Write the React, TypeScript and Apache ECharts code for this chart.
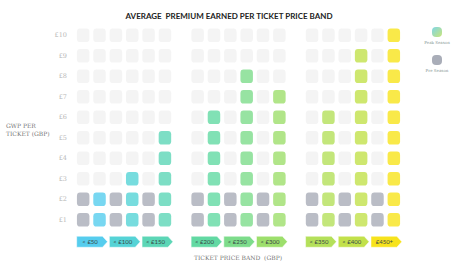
import React, { useEffect, useRef } from "react";
import * as echarts from "echarts";

const rowLabels = ["£1", "£2", "£3", "£4", "£5", "£6", "£7", "£8", "£9", "£10"];
const bands = ["< £50", "< £100", "< £150", "< £200", "< £250", "< £300", "< £350", "< £400", "£450+"];
const peakLevels = [2, 3, 5, 6, 8, 7, 6, 9, 10];
const preLevels = [2, 2, 2, 2, 2, 2, 2, 2, 2];
const bandColors = ["#56cdee", "#55d3d6", "#5cd6b6", "#62d9a3", "#7ddc8b", "#9ddf6c", "#b4e05a", "#c2e14b", "#f7e31c"];
const slotCount = 20;
const slots = Array.from({ length: slotCount }, (_, i) => String(i));

const EMPTY = "#f1f1f1";
const PRE = "#a9adb8";

function preSlot(b: number) {
  return Math.floor(b / 3) * 7 + (b % 3) * 2;
}

export default function App() {
  const ref = useRef<HTMLDivElement>(null);
  useEffect(() => {
    if (!ref.current) return;
    const chart = echarts.init(ref.current, undefined, { renderer: "svg" });

    const emptyData: any[] = [];
    const preData: any[] = [];
    const peakData: any[] = [];
    bands.forEach((_, b) => {
      const ps = preSlot(b);
      for (let r = 0; r < rowLabels.length; r++) {
        if (r < preLevels[b]) preData.push([ps, r]);
        else emptyData.push([ps, r]);
        if (r < peakLevels[b]) peakData.push({ value: [ps + 1, r], itemStyle: { color: bandColors[b] } });
        else emptyData.push([ps + 1, r]);
      }
    });

    const cellSize = [12.5, 13.5];

    const tagData = bands.map((name, b) => [preSlot(b), preSlot(b) + 1, b]);

    chart.setOption({
      animation: false,
      grid: { left: 75, right: 72, top: 25, bottom: 44 },
      xAxis: {
        type: "category",
        data: slots,
        show: false,
      },
      yAxis: {
        type: "category",
        data: rowLabels,
        axisLine: { show: false },
        axisTick: { show: false },
        splitLine: { show: false },
        axisLabel: { color: "#b8b8b8", fontSize: 6.5, margin: 8, fontFamily: "DejaVu Serif" },
      },
      series: [
        { type: "scatter", name: "Empty", symbol: "roundRect", symbolSize: cellSize, data: emptyData, itemStyle: { color: EMPTY }, silent: true },
        { type: "scatter", name: "Pre Season", symbol: "roundRect", symbolSize: cellSize, data: preData, itemStyle: { color: PRE } },
        { type: "scatter", name: "Peak Season", symbol: "roundRect", symbolSize: cellSize, data: peakData },
        {
          type: "custom",
          name: "Bands",
          data: tagData,
          clip: false,
          renderItem: (params: any, api: any) => {
            const b = api.value(2);
            const p1 = api.coord([api.value(0), 0]);
            const p2 = api.coord([api.value(1), 0]);
            const x0 = p1[0] - 6.5;
            const x1 = p2[0] + 8;
            const y = p1[1] + 22;
            const h = 5.5;
            return {
              type: "group",
              children: [
                {
                  type: "polygon",
                  shape: { points: [[x0, y - h], [x1 - 5, y - h], [x1, y], [x1 - 5, y + h], [x0, y + h]] },
                  style: { fill: bandColors[b], stroke: "#ffffff", lineWidth: 0.5 },
                },
                {
                  type: "text",
                  style: {
                    text: bands[b],
                    x: (x0 + x1) / 2 - 2,
                    y: y,
                    textAlign: "center",
                    textVerticalAlign: "middle",
                    fontSize: 6,
                    fontFamily: "Lato",
                    fill: "#3a4a48",
                  },
                },
              ],
            };
          },
        },
      ],
      graphic: [
        {
          type: "text",
          x: 229,
          y: 16,
          style: {
            text: "AVERAGE  PREMIUM EARNED PER TICKET PRICE BAND",
            textAlign: "center",
            textVerticalAlign: "middle",
            fontSize: 8,
            fontWeight: "bold",
            fontFamily: "Lato",
            fill: "#222222",
          },
        },
        {
          type: "text",
          x: 6,
          y: 121,
          style: {
            text: "GWP PER\nTICKET (GBP)",
            fontSize: 6,
            lineHeight: 8,
            fontFamily: "DejaVu Serif",
            fill: "#777777",
          },
        },
        {
          type: "text",
          x: 238,
          y: 257,
          style: {
            text: "TICKET PRICE BAND  (GBP)",
            textAlign: "center",
            textVerticalAlign: "middle",
            fontSize: 6,
            fontFamily: "DejaVu Serif",
            fill: "#777777",
          },
        },
        {
          type: "rect",
          shape: { x: 432, y: 27, width: 10, height: 10, r: 4 },
          style: {
            fill: new echarts.graphic.LinearGradient(0, 0, 1, 1, [
              { offset: 0, color: "#7fd6e6" },
              { offset: 1, color: "#c9e57a" },
            ]),
          },
        },
        {
          type: "text",
          x: 437,
          y: 42,
          style: { text: "Peak Season", textAlign: "center", textVerticalAlign: "middle", fontSize: 4, fill: "#8a9a98", fontFamily: "DejaVu Serif" },
        },
        {
          type: "rect",
          shape: { x: 432, y: 55, width: 10, height: 10, r: 4 },
          style: { fill: PRE },
        },
        {
          type: "text",
          x: 437,
          y: 70,
          style: { text: "Pre Season", textAlign: "center", textVerticalAlign: "middle", fontSize: 4, fill: "#8a9a98", fontFamily: "DejaVu Serif" },
        },
      ],
    });
    return () => chart.dispose();
  }, []);
  return <div ref={ref} style={{ width: 474, height: 274, position: "absolute", left: 0, top: 0 }} />;
}
